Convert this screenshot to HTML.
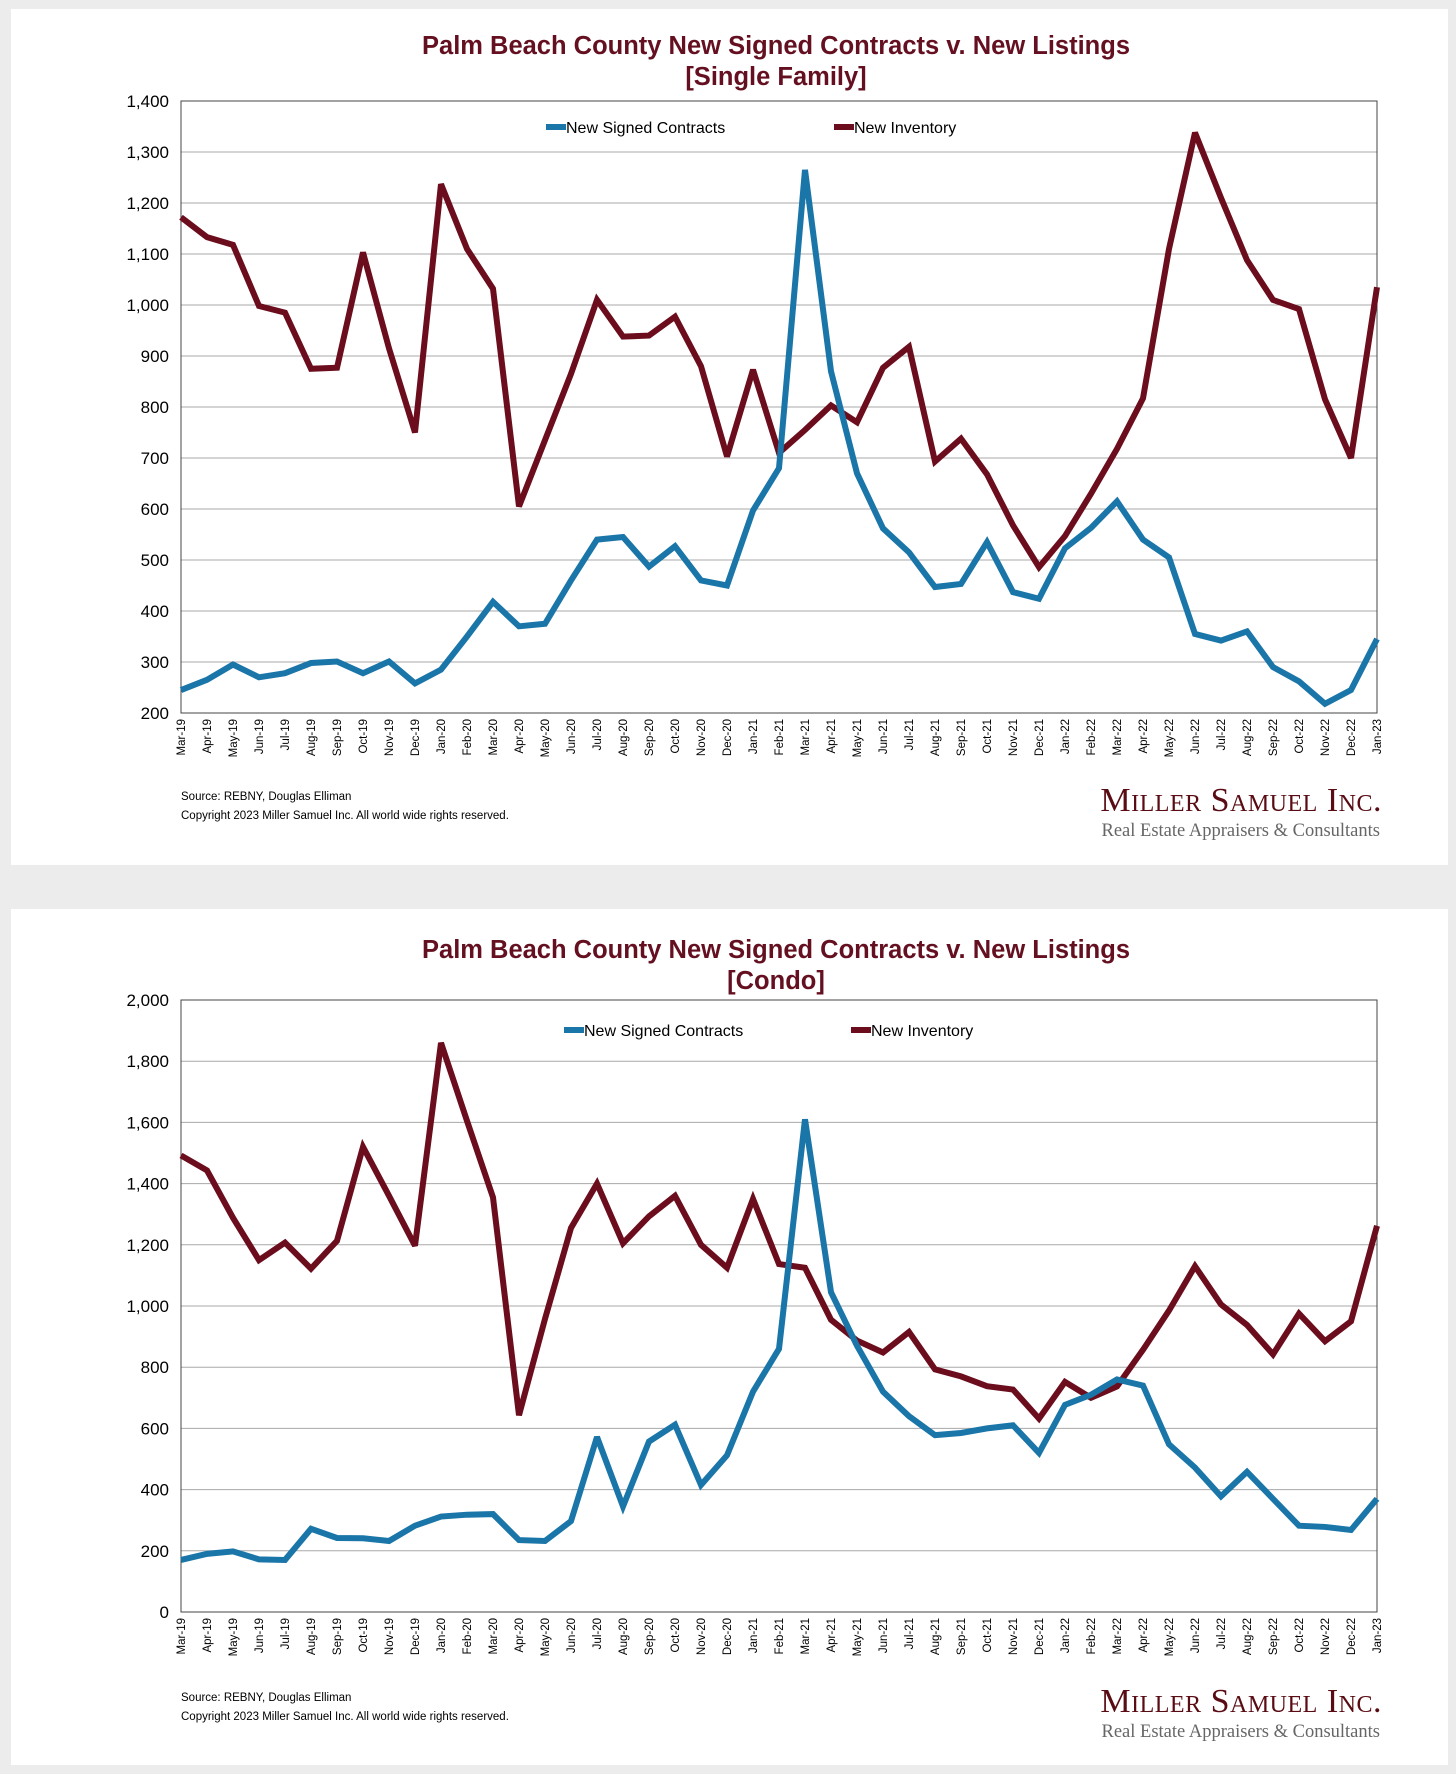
<!DOCTYPE html>
<html><head><meta charset="utf-8">
<style>
body{margin:0;background:#ececec;width:1456px;height:1774px;overflow:hidden;font-family:"Liberation Sans",sans-serif}
svg{position:absolute;left:0;top:0}
</style></head><body>
<svg id="c" width="1456" height="1774"></svg>
<script>
const months=["Mar-19","Apr-19","May-19","Jun-19","Jul-19","Aug-19","Sep-19","Oct-19","Nov-19","Dec-19","Jan-20","Feb-20","Mar-20","Apr-20","May-20","Jun-20","Jul-20","Aug-20","Sep-20","Oct-20","Nov-20","Dec-20","Jan-21","Feb-21","Mar-21","Apr-21","May-21","Jun-21","Jul-21","Aug-21","Sep-21","Oct-21","Nov-21","Dec-21","Jan-22","Feb-22","Mar-22","Apr-22","May-22","Jun-22","Jul-22","Aug-22","Sep-22","Oct-22","Nov-22","Dec-22","Jan-23"];
const sfContracts=[245,265,295,270,278,298,301,278,301,258,285,350,418,370,375,460,540,545,487,527,460,450,597,680,1265,870,670,562,515,447,453,535,437,424,523,563,615,540,505,355,342,360,290,262,218,245,345];
const sfInventory=[1172,1133,1118,998,985,875,877,1103,915,750,1237,1110,1032,605,735,865,1010,938,940,977,880,703,873,710,755,803,770,877,918,693,738,668,568,486,547,630,718,817,1110,1338,1210,1088,1010,992,815,700,1035];
const cdContracts=[170,190,198,172,170,272,242,241,232,282,312,318,320,235,232,297,572,345,557,612,415,512,720,860,1610,1045,870,720,640,578,585,600,610,520,677,710,760,740,548,472,378,458,370,282,278,268,370];
const cdInventory=[1492,1443,1288,1150,1207,1122,1213,1520,1360,1197,1860,1605,1355,643,958,1255,1400,1205,1293,1360,1200,1125,1350,1137,1125,955,887,848,915,793,770,738,727,632,752,700,737,857,985,1130,1005,938,842,975,885,950,1262];
const sfTicks=[200,300,400,500,600,700,800,900,1000,1100,1200,1300,1400];
const cdTicks=[0,200,400,600,800,1000,1200,1400,1600,1800,2000];
const NS="http://www.w3.org/2000/svg";
const svg=document.getElementById('c');
const BLUE="#1a75a8",RED="#6b0d1d";
function mk(tag,attrs,parent,text){const e=document.createElementNS(NS,tag);for(const k in attrs)e.setAttribute(k,attrs[k]);if(text!==undefined)e.textContent=text;(parent||svg).appendChild(e);return e;}
function fmt(v){return v.toLocaleString('en-US');}
function chart(o){
  const g=mk('g',{});
  
  
  const p=mk('rect',{x:11,y:o.py,width:1437,height:856,fill:'#fff'},g);
  
  
  const L=181,R=1377,T=o.top,B=o.top+612;
  const ymin=o.ticks[0],ymax=o.ticks[o.ticks.length-1];
  const y=v=>B-(v-ymin)/(ymax-ymin)*(B-T);
  const x=i=>L+i*(R-L)/(months.length-1);
  let t=mk('text',{x:(L+R)/2-3,y:o.ty,'text-anchor':'middle','font-size':25.5,'font-weight':'bold',fill:'#641020'},g,o.title1);
  
  t=mk('text',{x:(L+R)/2-3,y:o.ty+31,'text-anchor':'middle','font-size':25.5,'font-weight':'bold',fill:'#641020'},g,o.title2);
  
  o.ticks.forEach(v=>{
    const gl=mk('line',{x1:L,x2:R,y1:y(v),y2:y(v),stroke:'#a8a8a8','stroke-width':1},g);
    
    const tl=mk('text',{x:L-12,y:y(v)+6,'text-anchor':'end','font-size':17,fill:'#000'},g,fmt(v));
    
  });
  const fr=mk('rect',{x:L,y:T,width:R-L,height:B-T,fill:'none',stroke:'#444','stroke-width':1},g);
  
  months.forEach((m,i)=>{
    const tl=mk('text',{x:0,y:0,'text-anchor':'end','font-size':11.5,fill:'#000',transform:`translate(${x(i)+4},${B+6}) rotate(-90)`},g,m);
    
  });
  [[o.inv,RED,'inventory-line'],[o.con,BLUE,'contracts-line']].forEach(([d,c,n])=>{
    const pl=mk('polyline',{points:d.map((v,i)=>x(i)+','+y(v)).join(' '),fill:'none',stroke:c,'stroke-width':6,'stroke-linejoin':'miter','stroke-miterlimit':3},g);
    
  });
  [[o.lx1,BLUE,'New Signed Contracts','legend-contracts'],[o.lx2,RED,'New Inventory','legend-inventory']].forEach(([lx,c,s,n])=>{
    const lg=mk('g',{},g);
    
    mk('line',{x1:lx,x2:lx+20,y1:o.ly,y2:o.ly,stroke:c,'stroke-width':6},lg);
    mk('text',{x:lx+20,y:o.ly+6,'font-size':16,fill:'#000'},lg,s);
  });
  t=mk('text',{x:181,y:o.sy,'font-size':11.5,fill:'#000'},g,'Source: REBNY, Douglas Elliman');
  
  t=mk('text',{x:181,y:o.sy+19,'font-size':11.5,fill:'#000'},g,'Copyright 2023 Miller Samuel Inc.  All world wide rights reserved.');
  
  t=mk('text',{x:1382,y:o.sy+11,'text-anchor':'end','font-size':34,fill:'#5a0c14','font-family':'Liberation Serif, serif','font-variant':'small-caps','letter-spacing':'0.5'},g,'Miller Samuel Inc.');
  
  t=mk('text',{x:1380,y:o.sy+36,'text-anchor':'end','font-size':18.5,fill:'#666','font-family':'Liberation Serif, serif'},g,'Real Estate Appraisers & Consultants');
  
}
chart({name:'single-family-chart',py:9,top:101,ticks:sfTicks,con:sfContracts,inv:sfInventory,title1:'Palm Beach County New Signed Contracts v. New Listings',title2:'[Single Family]',ty:54,lx1:546,lx2:834,ly:127,sy:800});
chart({name:'condo-chart',py:909,top:1000,ticks:cdTicks,con:cdContracts,inv:cdInventory,title1:'Palm Beach County New Signed Contracts v. New Listings',title2:'[Condo]',ty:958,lx1:564,lx2:851,ly:1030,sy:1701});
</script>
</body></html>
